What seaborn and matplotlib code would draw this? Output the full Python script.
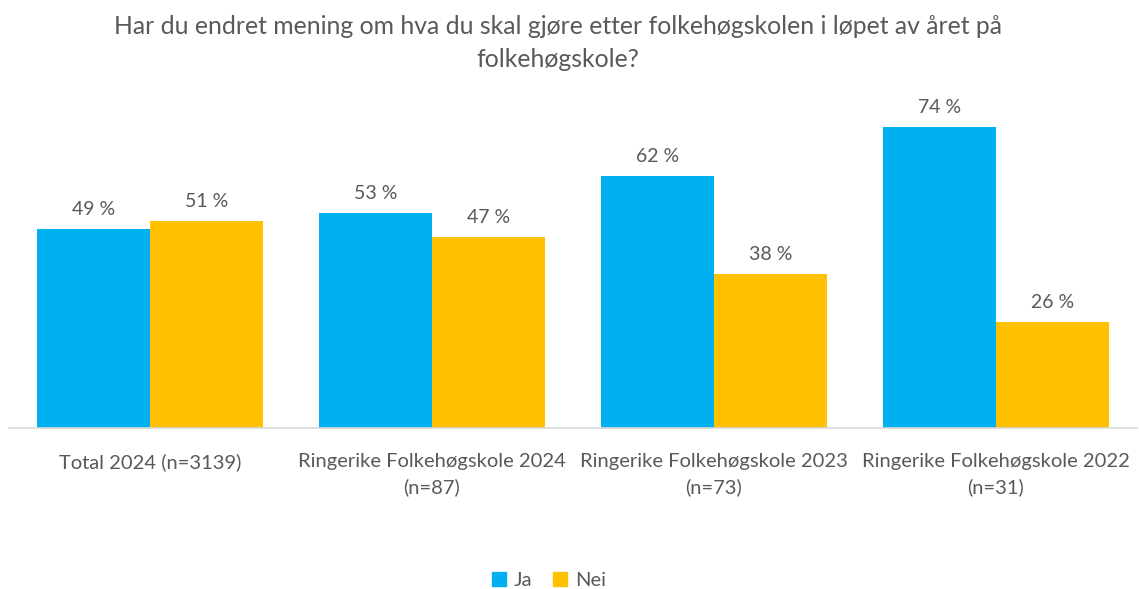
import pandas as pd
import matplotlib.pyplot as plt
import seaborn as sns

# data
categories = ['Total 2024 (n=3139)',
              'Ringerike Folkehøgskole 2024\n(n=87)',
              'Ringerike Folkehøgskole 2023\n(n=73)',
              'Ringerike Folkehøgskole 2022\n(n=31)']
ja = [49, 53, 62, 74]
nei = [51, 47, 38, 26]
series = ['Ja', 'Nei']
colors = ['#00B0F0', '#FFC000']
title = 'Har du endret mening om hva du skal gjøre etter folkehøgskolen i løpet av året på\nfolkehøgskole?'

df = pd.DataFrame({
    'kategori': categories * 2,
    'svar': ['Ja'] * len(categories) + ['Nei'] * len(categories),
    'prosent': ja + nei,
})

sns.set_style('white')
plt.rcParams['font.family'] = ['Lato', 'DejaVu Sans']
grey = '#595959'

fig = plt.figure(figsize=(11.39, 5.89), dpi=100)
ax = fig.add_axes([0.0079, 0.2734, 0.9903, 0.5516])

sns.barplot(data=df, x='kategori', y='prosent', hue='svar', hue_order=series,
            palette=colors, width=0.8, saturation=1, linewidth=0, ax=ax, legend=False)

for cont in ax.containers:
    ax.bar_label(cont, labels=[f'{v:.0f} %' for v in cont.datavalues],
                 padding=8, fontsize=14, color=grey)

ax.set_ylim(0, 80)
ax.set_xlim(-0.5, 3.5)
ax.set_yticks([])
ax.set_xlabel('')
ax.set_ylabel('')
ax.tick_params(axis='x', length=0, pad=18, labelsize=14.5, labelcolor=grey)
for lbl in ax.get_xticklabels():
    lbl.set_linespacing(1.55)
for s in ['top', 'right', 'left']:
    ax.spines[s].set_visible(False)
ax.spines['bottom'].set_color('#D9D9D9')
ax.spines['bottom'].set_linewidth(1.2)

fig.suptitle(title, x=0.49, y=0.975, fontsize=17.8, color=grey, linespacing=1.55)

handles = [plt.Rectangle((0, 0), 1, 1, color=c) for c in colors]
fig.legend(handles, series, loc='center', bbox_to_anchor=(0.482, 0.015),
           ncol=2, frameon=False, fontsize=14.5, labelcolor=grey,
           handlelength=0.7, handleheight=0.7, handletextpad=0.4, columnspacing=1.0)

plt.savefig('out.png', dpi=100)
